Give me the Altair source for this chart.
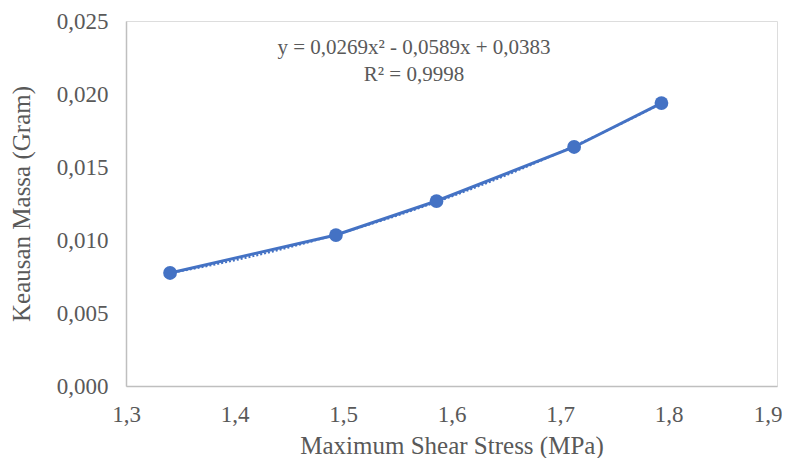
import altair as alt
import pandas as pd

x_vals = [1.3406, 1.4935, 1.5862, 1.7130, 1.7935]
y_vals = [0.00774, 0.01034, 0.01267, 0.01637, 0.01938]
eq_lines = ["y = 0,0269x² - 0,0589x + 0,0383", "R² = 0,9998"]

df = pd.DataFrame({"x": x_vals, "y": y_vals})

COLOR = "#4472C4"
FONT = "Liberation Serif"
GRAY = "#595959"

xscale = alt.Scale(domain=[1.3, 1.9], nice=False, zero=False)
yscale = alt.Scale(domain=[0, 0.025], nice=False)

xaxis = alt.Axis(
    title="Maximum Shear Stress (MPa)",
    values=[1.3, 1.4, 1.5, 1.6, 1.7, 1.8, 1.9],
    labelExpr="replace(format(datum.value, '.1f'), '.', ',')",
    grid=False, ticks=False, domainColor="#bfbfbf", domainWidth=1.5,
    labelFont=FONT, labelFontSize=23, labelColor=GRAY, labelPadding=17,
    labelFlush=False, labelOverlap=False,
    labelAlign={"condition": {"test": "datum.value > 1.85", "value": "right"}, "value": "center"},
    labelOffset={"condition": {"test": "datum.value > 1.85", "value": 5}, "value": 0},
    titleFont=FONT, titleFontSize=25, titleColor=GRAY, titleFontWeight="normal",
    titleBaseline="alphabetic", titleY=67,
)
yaxis = alt.Axis(
    title="Keausan Massa (Gram)",
    values=[0, 0.005, 0.01, 0.015, 0.02, 0.025],
    labelExpr="replace(format(datum.value, '.3f'), '.', ',')",
    grid=False, ticks=False, domainColor="#bfbfbf", domainWidth=1.5,
    labelFont=FONT, labelFontSize=23, labelColor=GRAY, labelPadding=18,
    labelFlush=False, labelOverlap=False,
    titleFont=FONT, titleFontSize=25, titleColor=GRAY, titleFontWeight="normal", titlePadding=22,
)

base = alt.Chart(df)

trend = base.transform_regression("x", "y", method="poly", order=2).mark_line(
    color=COLOR, strokeWidth=2, strokeDash=[2, 2]
).encode(
    x=alt.X("x:Q", scale=xscale, axis=xaxis),
    y=alt.Y("y:Q", scale=yscale, axis=yaxis),
)
line = base.mark_line(color=COLOR, strokeWidth=3).encode(
    x=alt.X("x:Q", scale=xscale),
    y=alt.Y("y:Q", scale=yscale),
)
points = base.mark_point(filled=True, color=COLOR, size=190, opacity=1).encode(
    x=alt.X("x:Q", scale=xscale),
    y=alt.Y("y:Q", scale=yscale),
)

def label(txt, ypix):
    return alt.Chart(pd.DataFrame({"t": [txt]})).mark_text(
        font=FONT, fontSize=21, color=GRAY, align="center", baseline="middle"
    ).encode(text="t:N", x=alt.value(288), y=alt.value(ypix))

chart = alt.layer(trend, line, points, label(eq_lines[0], 27), label(eq_lines[1], 54)).properties(
    width=651, height=365,
    padding={"left": 118, "top": 13, "right": 5, "bottom": 72},
    autosize=alt.AutoSizeParams(type="none"),
).configure_view(stroke=None).configure(background="white")

chart.save("out.html", embed_options={"renderer": "svg", "actions": False})
